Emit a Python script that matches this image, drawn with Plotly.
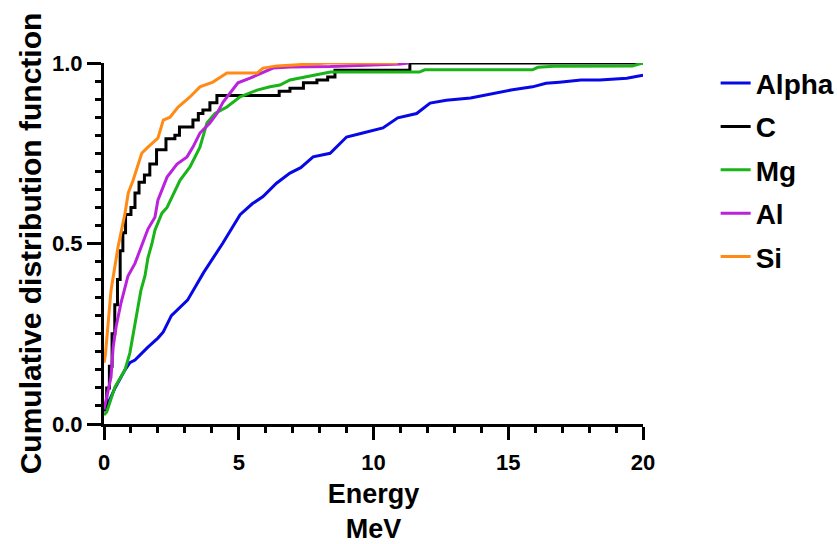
import plotly.graph_objects as go

# ---------------- data ----------------
alpha_x = [0, 0.07, 0.41, 0.78, 0.96, 1.15, 1.63, 2.0, 2.2, 2.5, 3.1, 3.7, 4.4, 5.05, 5.5, 5.9,
           6.4, 6.9, 7.3, 7.76, 8.39, 9.0, 9.6, 10.35, 10.9, 11.6, 12.1, 12.7, 13.6, 14.4, 15.1,
           15.9, 16.4, 16.9, 17.7, 18.4, 19.4, 20]
alpha_y = [0.035, 0.044, 0.10, 0.15, 0.17, 0.177, 0.213, 0.238, 0.255, 0.30, 0.343, 0.42, 0.50,
           0.58, 0.61, 0.63, 0.667, 0.695, 0.71, 0.74, 0.75, 0.795, 0.806, 0.82, 0.848, 0.86,
           0.889, 0.897, 0.903, 0.915, 0.925, 0.934, 0.944, 0.947, 0.953, 0.953, 0.958, 0.966]

c_x = [0, 0.1, 0.2, 0.3, 0.4, 0.5, 0.6, 0.7, 0.8, 1.0, 1.15, 1.3, 1.5, 1.7, 1.95, 2.3, 2.63,
       2.8, 3.3, 3.5, 3.67, 3.93, 4.19, 6.5, 6.9, 7.4, 7.9, 8.3, 8.57, 11.35, 20]
c_y = [0.04, 0.10, 0.16, 0.25, 0.33, 0.40, 0.48, 0.53, 0.58, 0.60, 0.64, 0.67, 0.69, 0.72,
       0.76, 0.79, 0.80, 0.823, 0.842, 0.86, 0.87, 0.89, 0.91, 0.922, 0.93, 0.945, 0.953,
       0.961, 0.98, 1.0, 1.0]

mg_x = [0, 0.1, 0.41, 0.78, 0.96, 1.15, 1.37, 1.52, 1.63, 1.78, 1.89, 2.15, 2.34, 2.82, 3.19,
        3.56, 3.82, 4.12, 4.56, 5.05, 5.68, 6.16, 6.53, 6.9, 7.4, 7.9, 8.4, 11.7, 11.9, 15.9,
        16.1, 16.7, 19.6, 20]
mg_y = [0.025, 0.033, 0.103, 0.15, 0.197, 0.28, 0.37, 0.41, 0.46, 0.50, 0.537, 0.584, 0.60,
        0.675, 0.712, 0.767, 0.834, 0.86, 0.878, 0.906, 0.925, 0.934, 0.939, 0.953, 0.961,
        0.969, 0.975, 0.975, 0.981, 0.981, 0.988, 0.991, 0.992, 1.0]

al_x = [0, 0.16, 0.26, 0.34, 0.45, 0.63, 0.89, 1.15, 1.37, 1.63, 1.89, 2.0, 2.34, 2.71, 3.08,
        3.3, 3.56, 3.93, 4.19, 4.42, 4.68, 4.97, 5.42, 5.9, 6.27, 6.9, 8.4, 11.0, 11.3]
al_y = [0.04, 0.10, 0.13, 0.213, 0.27, 0.335, 0.41, 0.445, 0.49, 0.54, 0.573, 0.62, 0.684,
        0.72, 0.74, 0.767, 0.806, 0.834, 0.86, 0.892, 0.917, 0.945, 0.958, 0.975, 0.986,
        0.989, 0.99, 0.997, 1.0]

si_x = [0, 0.05, 0.26, 0.52, 0.78, 0.9, 1.08, 1.4, 1.63, 2.0, 2.2, 2.45, 2.75, 3.19, 3.56,
        4.04, 4.56, 5.68, 5.9, 6.42, 6.9, 8.3, 10.9]
si_y = [0.17, 0.19, 0.37, 0.49, 0.584, 0.64, 0.675, 0.75, 0.767, 0.792, 0.842, 0.85, 0.878,
        0.906, 0.934, 0.947, 0.972, 0.972, 0.986, 0.992, 0.994, 1.0, 1.0]

series_names = ["Alpha", "C", "Mg", "Al", "Si"]
series_colors = ["#0808E6", "#000000", "#18B418", "#BA22DC", "#FF8A14"]
series_shapes = ["linear", "hv", "linear", "linear", "linear"]
series_x = [alpha_x, c_x, mg_x, al_x, si_x]
series_y = [alpha_y, c_y, mg_y, al_y, si_y]

x_range = [0, 20]
y_range = [0, 1]
x_major_step = 5
x_minor_step = 1
y_major_step = 0.5
y_minor_step = 0.05

FONT = "Liberation Sans, Arial, sans-serif"

fig = go.Figure()
for name, col, shp, xs, ys in zip(series_names, series_colors, series_shapes, series_x, series_y):
    fig.add_trace(go.Scatter(
        x=xs, y=ys, name=name, mode="lines", legendgroup=name,
        line=dict(color=col, width=3, shape=shp), cliponaxis=False,
    ))

axis_common = dict(
    showgrid=False, zeroline=False, showline=True, linecolor="black", linewidth=3,
    ticks="outside", tickcolor="black", tickwidth=3, automargin=False,
    tickfont=dict(family=FONT, size=22, color="black", weight="bold"),
)

fig.update_layout(
    width=837, height=544,
    margin=dict(l=104, r=194, t=63, b=120),
    plot_bgcolor="white", paper_bgcolor="white",
    xaxis=dict(
        range=x_range, tickmode="linear", tick0=0, dtick=x_major_step, ticklen=13,
        ticklabelstandoff=4,
        minor=dict(tickmode="linear", tick0=0, dtick=x_minor_step, ticks="outside",
                   ticklen=6, tickwidth=3, tickcolor="black", showgrid=False),
        title=dict(text="Energy<br>MeV",
                   font=dict(family=FONT, size=27, color="black", weight="bold"), standoff=12),
        **axis_common,
    ),
    yaxis=dict(
        range=y_range, tickmode="linear", tick0=0, dtick=y_major_step, tickformat=".1f", ticklen=14,
        minor=dict(tickmode="linear", tick0=0, dtick=y_minor_step, ticks="outside",
                   ticklen=6, tickwidth=3, tickcolor="black", showgrid=False),
        title=dict(text="Cumulative distribution function",
                   font=dict(family=FONT, size=30, color="black", weight="bold"), standoff=2),
        **axis_common,
    ),
    legend=dict(xref="container", x=0.855, y=1.013, xanchor="left", yanchor="top",
                font=dict(family=FONT, size=28, color="black", weight="bold"),
                tracegroupgap=4, bgcolor="rgba(0,0,0,0)"),
)

fig.write_html("out.html", config={"displayModeBar": False},
               post_script="document.body.style.margin='0';")
